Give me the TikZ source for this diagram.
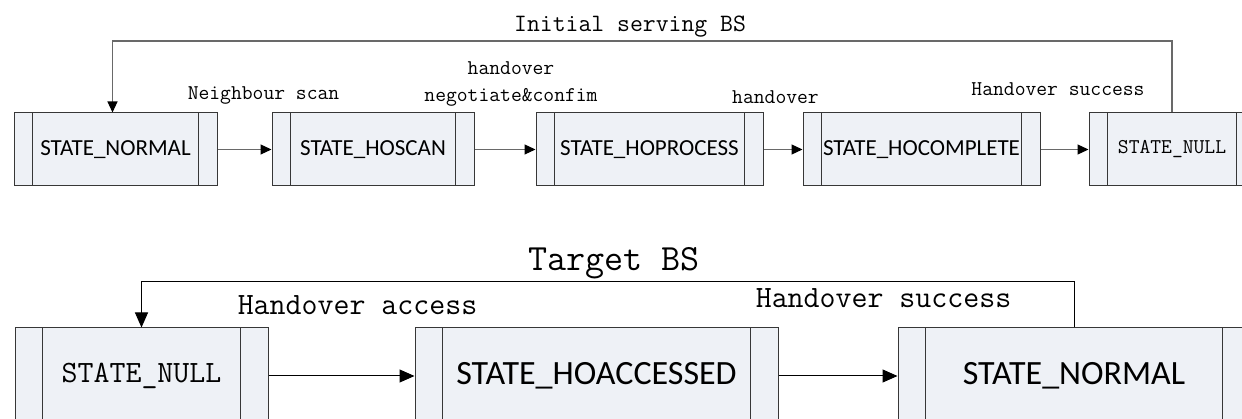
\documentclass[tikz,border=0pt]{standalone}
\usepackage{fontspec}
\newfontfamily\boxfont{Carlito}
\usetikzlibrary{arrows.meta}

\definecolor{boxfill}{RGB}{238,241,246}
\definecolor{boxline}{RGB}{55,55,55}
\definecolor{linkgray}{RGB}{105,105,105}

\tikzset{
  state/.style={draw=boxline, fill=boxfill, line width=1pt, inner sep=0pt},
  smallstate/.style={state, minimum height=73pt, font=\boxfont\fontsize{23}{26}\selectfont},
  bigstate/.style={state, minimum height=96pt, font=\boxfont\fontsize{34}{38}\selectfont},
  lbl/.style={inner sep=0pt, font=\ttfamily\fontsize{21}{27}\selectfont, align=center},
  biglbl/.style={lbl, font=\ttfamily\fontsize{31}{36}\selectfont},
  link/.style={draw=linkgray, line width=1.2pt, -{Triangle[length=11pt,width=10pt,color=black]}},
  biglink/.style={draw=black, line width=1pt, -{Triangle[length=15pt,width=13pt]}},
}

\begin{document}
\begin{tikzpicture}[x=1pt,y=-1pt]
    \clip (0,0) rectangle (1242,419);
    \fill[white] (0,0) rectangle (1242,419);

    % initial serving BS
    \node[smallstate, minimum width=203pt] (inorm) at (115.5,149.5) {STATE\_NORMAL};
    \node[smallstate, minimum width=202pt] (iscan) at (373,149.5) {STATE\_HOSCAN};
    \node[smallstate, minimum width=227pt] (iproc) at (649.5,149.5) {STATE\_HOPROCESS};
    \node[smallstate, minimum width=237pt] (icomp) at (921.5,149.5) {STATE\_HOCOMPLETE};
    \node[smallstate, minimum width=166pt, font=\ttfamily\fontsize{21}{25}\selectfont] (inull) at (1172,149.5) {STATE\_NULL};
    \foreach \n in {inorm,iscan,iproc,icomp,inull}
        \draw[boxline, line width=1pt] ([xshift=19pt]\n.north west) -- ([xshift=19pt]\n.south west)
            ([xshift=-19pt]\n.north east) -- ([xshift=-19pt]\n.south east);

    \draw[link] (inorm) -- (iscan);
    \draw[link] (iscan) -- (iproc);
    \draw[link] (iproc) -- (icomp);
    \draw[link] (icomp) -- (inull);
    \coordinate (itop) at (0,41);
    \draw[link] (inull.north) -- (inull.north |- itop) -| ([xshift=-3pt]inorm.north);

    \node[lbl, font=\ttfamily\fontsize{25}{27}\selectfont] (ititle) at (630,27) {Initial serving BS};
    \node[lbl] (iscanlbl) at (263.5,95) {Neighbour scan};
    \node[lbl] (iproclbl) at (511,83.5) {handover\\negotiate\&confim};
    \node[lbl] (icomplbl) at (775.5,97) {handover};
    \node[lbl] (inulllbl) at (1058,89) {Handover success};

    % target BS
    \node[bigstate, minimum width=253pt, font=\ttfamily\fontsize{31}{36}\selectfont] (tnull) at (141.5,376) {STATE\_NULL};
    \node[bigstate, minimum width=363pt] (tacc) at (596.5,376) {STATE\_HOACCESSED};
    \node[bigstate, minimum width=352pt] (tnorm) at (1074,376) {STATE\_NORMAL};
    \foreach \n in {tnull,tacc,tnorm}
        \draw[boxline, line width=1pt] ([xshift=28pt]\n.north west) -- ([xshift=28pt]\n.south west)
            ([xshift=-28pt]\n.north east) -- ([xshift=-28pt]\n.south east);

    \draw[biglink] (tnull) -- (tacc);
    \draw[biglink] (tacc) -- (tnorm);
    \coordinate (ttop) at (0,282);
    \draw[biglink] (tnorm.north) -- (tnorm.north |- ttop) -| (tnull.north);

    \node[biglbl, font=\ttfamily\fontsize{37}{40}\selectfont] (ttitle) at (614,263) {Target BS};
    \node[biglbl] (tacclbl) at (357.5,305) {Handover access};
    \node[biglbl] (tnormlbl) at (883.5,298) {Handover success};
\end{tikzpicture}
\end{document}
